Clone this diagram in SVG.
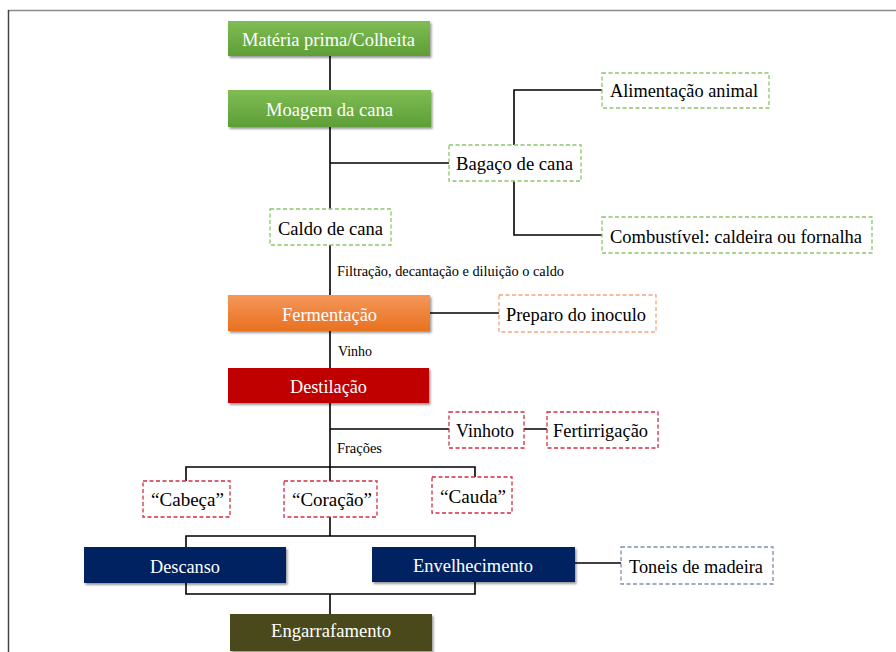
<svg xmlns="http://www.w3.org/2000/svg" width="896" height="652" viewBox="0 0 896 652">
<defs>
<linearGradient id="gGreen" x1="0" y1="0" x2="0" y2="1"><stop offset="0" stop-color="#7fbd55"/><stop offset="1" stop-color="#5e9e36"/></linearGradient>
<linearGradient id="gOrange" x1="0" y1="0" x2="0" y2="1"><stop offset="0" stop-color="#f5975a"/><stop offset="1" stop-color="#e8711f"/></linearGradient>
<filter id="sh" x="-5%" y="-10%" width="112%" height="135%"><feDropShadow dx="1.5" dy="2" stdDeviation="1.3" flood-color="#000" flood-opacity="0.4"/></filter>
</defs>
<style>
.t{font-size:19px;font-family:"Liberation Serif","Times New Roman",serif;}
.w{fill:#ffffff;}
.k{fill:#000000;}
.s{font-size:14px;fill:#000;font-family:"Liberation Serif","Times New Roman",serif;}
.d{fill:#ffffff;stroke-width:1.3;stroke-dasharray:4 2.5;}
.dg{stroke:#8ec46a;}
.do{stroke:#f3a57a;}
.dr{stroke:#d03040;}
.db{stroke:#7f8db0;}
.ln{fill:none;stroke:#000;stroke-width:1.6;}
</style>
<rect x="0" y="0" width="896" height="652" fill="#ffffff"/>
<line x1="8" y1="10.5" x2="896" y2="10.5" stroke="#8a8a8a" stroke-width="1.5"/>
<line x1="8.5" y1="10" x2="8.5" y2="652" stroke="#444" stroke-width="1.5"/>

<g id="connectors">
<path class="ln" d="M330 56 V90 M330 127 V209 M330 163 H449 M330 245 V295 M330 331 V368 M330 403 V467"/>
<path class="ln" d="M514 145 V90 H602 M514 181 V235 H602"/>
<path class="ln" d="M430 313 H499 M330 429 H449 M524 429 H547"/>
<path class="ln" d="M186 481 V467 H475 V477 M330 467 V481"/>
<path class="ln" d="M330 517 V536 M186 547 V536 H475 V547"/>
<path class="ln" d="M186 583 V594 H475 V582 M330 594 V614"/>
<path class="ln" d="M575 563 H621"/>
</g>

<g id="n-materia"><rect x="228" y="21" width="202" height="35" fill="url(#gGreen)" filter="url(#sh)"/><text class="t w" x="242" y="46" textLength="173" lengthAdjust="spacingAndGlyphs">Matéria prima/Colheita</text></g>
<g id="n-moagem"><rect x="228" y="90" width="203" height="37" fill="url(#gGreen)" filter="url(#sh)"/><text class="t w" x="266" y="116" textLength="127" lengthAdjust="spacingAndGlyphs">Moagem da cana</text></g>
<g id="n-bagaco"><rect class="d dg" x="449" y="145" width="132" height="36"/><text class="t k" x="456" y="170" textLength="117" lengthAdjust="spacingAndGlyphs">Bagaço de cana</text></g>
<g id="n-alimentacao"><rect class="d dg" x="602" y="73" width="167" height="35"/><text class="t k" x="610" y="97" textLength="148" lengthAdjust="spacingAndGlyphs">Alimentação animal</text></g>
<g id="n-combustivel"><rect class="d dg" x="602" y="217" width="270" height="36"/><text class="t k" x="610" y="243" textLength="252" lengthAdjust="spacingAndGlyphs">Combustível: caldeira ou fornalha</text></g>
<g id="n-caldo"><rect class="d dg" x="270" y="209" width="121" height="36"/><text class="t k" x="278" y="235" textLength="105" lengthAdjust="spacingAndGlyphs">Caldo de cana</text></g>
<text class="s" x="337" y="276" textLength="227" lengthAdjust="spacingAndGlyphs">Filtração, decantação e diluição  o caldo</text>
<g id="n-fermentacao"><rect x="228" y="295" width="202" height="36" fill="url(#gOrange)" filter="url(#sh)"/><text class="t w" x="282" y="321" textLength="95" lengthAdjust="spacingAndGlyphs">Fermentação</text></g>
<g id="n-preparo"><rect class="d do" x="499" y="295" width="157" height="37"/><text class="t k" x="506" y="321" textLength="140" lengthAdjust="spacingAndGlyphs">Preparo do inoculo</text></g>
<text class="s" x="338" y="356" textLength="34" lengthAdjust="spacingAndGlyphs">Vinho</text>
<g id="n-destilacao"><rect x="228" y="368" width="201" height="35" fill="#c00000" filter="url(#sh)"/><text class="t w" x="290" y="393" textLength="77" lengthAdjust="spacingAndGlyphs">Destilação</text></g>
<g id="n-vinhoto"><rect class="d dr" x="449" y="412" width="75" height="36"/><text class="t k" x="456" y="437" textLength="58" lengthAdjust="spacingAndGlyphs">Vinhoto</text></g>
<g id="n-fertirrigacao"><rect class="d dr" x="547" y="412" width="111" height="36"/><text class="t k" x="553" y="437" textLength="95" lengthAdjust="spacingAndGlyphs">Fertirrigação</text></g>
<text class="s" x="337" y="453" textLength="45" lengthAdjust="spacingAndGlyphs">Frações</text>
<g id="n-cabeca"><rect class="d dr" x="143" y="481" width="87" height="36"/><text class="t k" x="151" y="506" textLength="73" lengthAdjust="spacingAndGlyphs">“Cabeça”</text></g>
<g id="n-coracao"><rect class="d dr" x="284" y="481" width="93" height="36"/><text class="t k" x="292" y="506" textLength="80" lengthAdjust="spacingAndGlyphs">“Coração”</text></g>
<g id="n-cauda"><rect class="d dr" x="432" y="477" width="80" height="36"/><text class="t k" x="440" y="503" textLength="66" lengthAdjust="spacingAndGlyphs">“Cauda”</text></g>
<g id="n-descanso"><rect x="84" y="547" width="202" height="36" fill="#002060" filter="url(#sh)"/><text class="t w" x="150" y="573" textLength="70" lengthAdjust="spacingAndGlyphs">Descanso</text></g>
<g id="n-envelhecimento"><rect x="372" y="547" width="203" height="35" fill="#002060" filter="url(#sh)"/><text class="t w" x="413" y="572" textLength="120" lengthAdjust="spacingAndGlyphs">Envelhecimento</text></g>
<g id="n-toneis"><rect class="d db" x="621" y="547" width="152" height="37"/><text class="t k" x="629" y="573" textLength="134" lengthAdjust="spacingAndGlyphs">Toneis de madeira</text></g>
<g id="n-engarrafamento"><rect x="230" y="614" width="202" height="37" fill="#4a4a1c" filter="url(#sh)"/><text class="t w" x="271" y="637" textLength="120" lengthAdjust="spacingAndGlyphs">Engarrafamento</text></g>
</svg>
